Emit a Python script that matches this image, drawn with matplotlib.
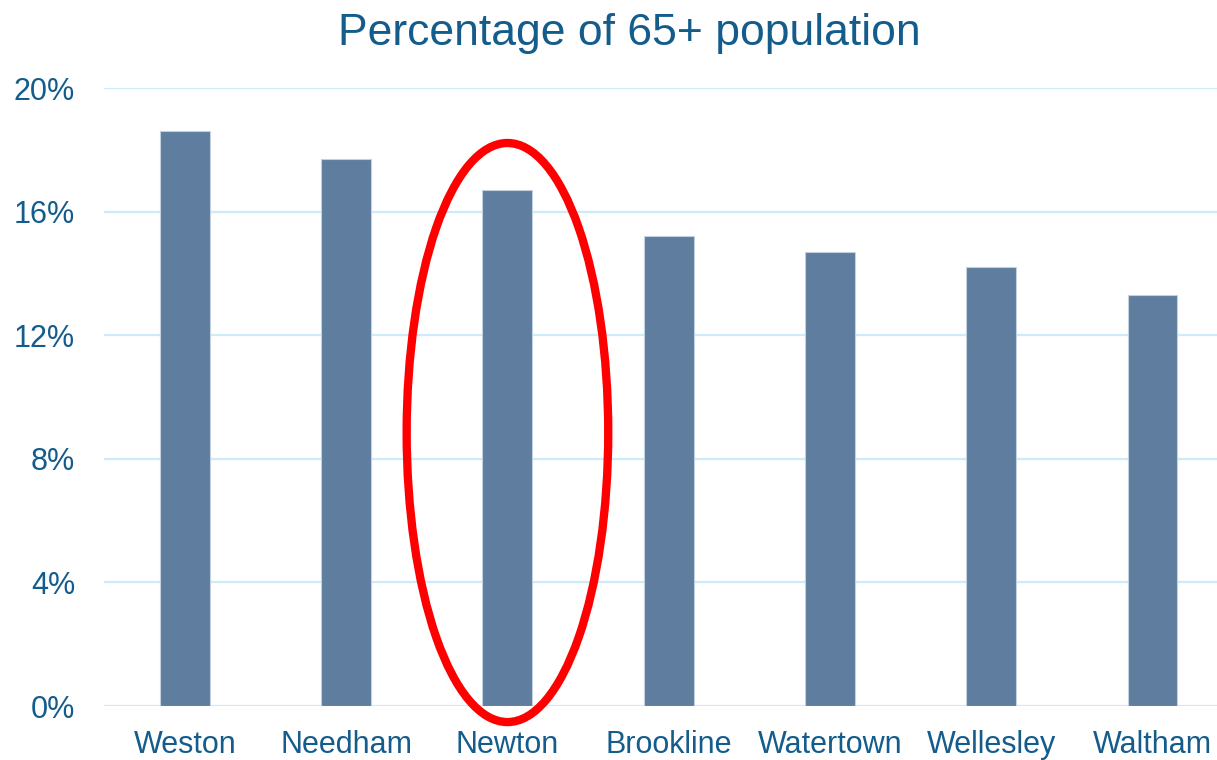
import matplotlib
matplotlib.use("Agg")
import matplotlib.pyplot as plt
from matplotlib.patches import Ellipse

towns = ["Weston", "Needham", "Newton", "Brookline", "Watertown", "Wellesley", "Waltham"]
pct_65plus = [18.6, 17.7, 16.7, 15.2, 14.7, 14.2, 13.3]
yticks = [0, 4, 8, 12, 16, 20]
ytick_labels = ["0%", "4%", "8%", "12%", "16%", "20%"]
title = "Percentage of 65+ population"
highlight = "Newton"

plt.rcParams['font.family'] = ['Liberation Sans', 'DejaVu Sans']
TXT = '#135C8C'
W, H = 1217, 760
fig = plt.figure(figsize=(W / 100, H / 100), dpi=100)
ax = fig.add_axes([104.3 / W, (H - 706) / H, (W - 104.3) / W, 618 / H])

x = list(range(len(towns)))
ax.bar(x, pct_65plus, width=0.31, color='#5F7D9F', edgecolor='#C3D0DD', linewidth=0.8, zorder=3)
ax.set_xlim(-0.5, 6.4)
ax.set_ylim(0, 20)
ax.set_yticks(yticks)
ax.set_yticklabels(ytick_labels)
ax.set_xticks(x)
ax.set_xticklabels(towns)
ax.tick_params(axis='both', length=0, labelsize=22, colors=TXT)
ax.tick_params(axis='y', pad=21)
ax.tick_params(axis='x', pad=17)
for s in ax.spines.values():
    s.set_visible(False)
ax.yaxis.grid(True, color='#CDEBF9', linewidth=1.6, zorder=0)
ax.set_axisbelow(True)

i = towns.index(highlight)
ell = Ellipse((i, 8.85), width=1.25, height=18.74, fill=False, edgecolor='#FF0000',
              linewidth=6.0, clip_on=False, zorder=5)
ax.add_patch(ell)

fig.text(629 / W, 1 - 33 / H, title, ha='center', va='center', fontsize=32, color=TXT)

fig.savefig("out.png", dpi=100)
